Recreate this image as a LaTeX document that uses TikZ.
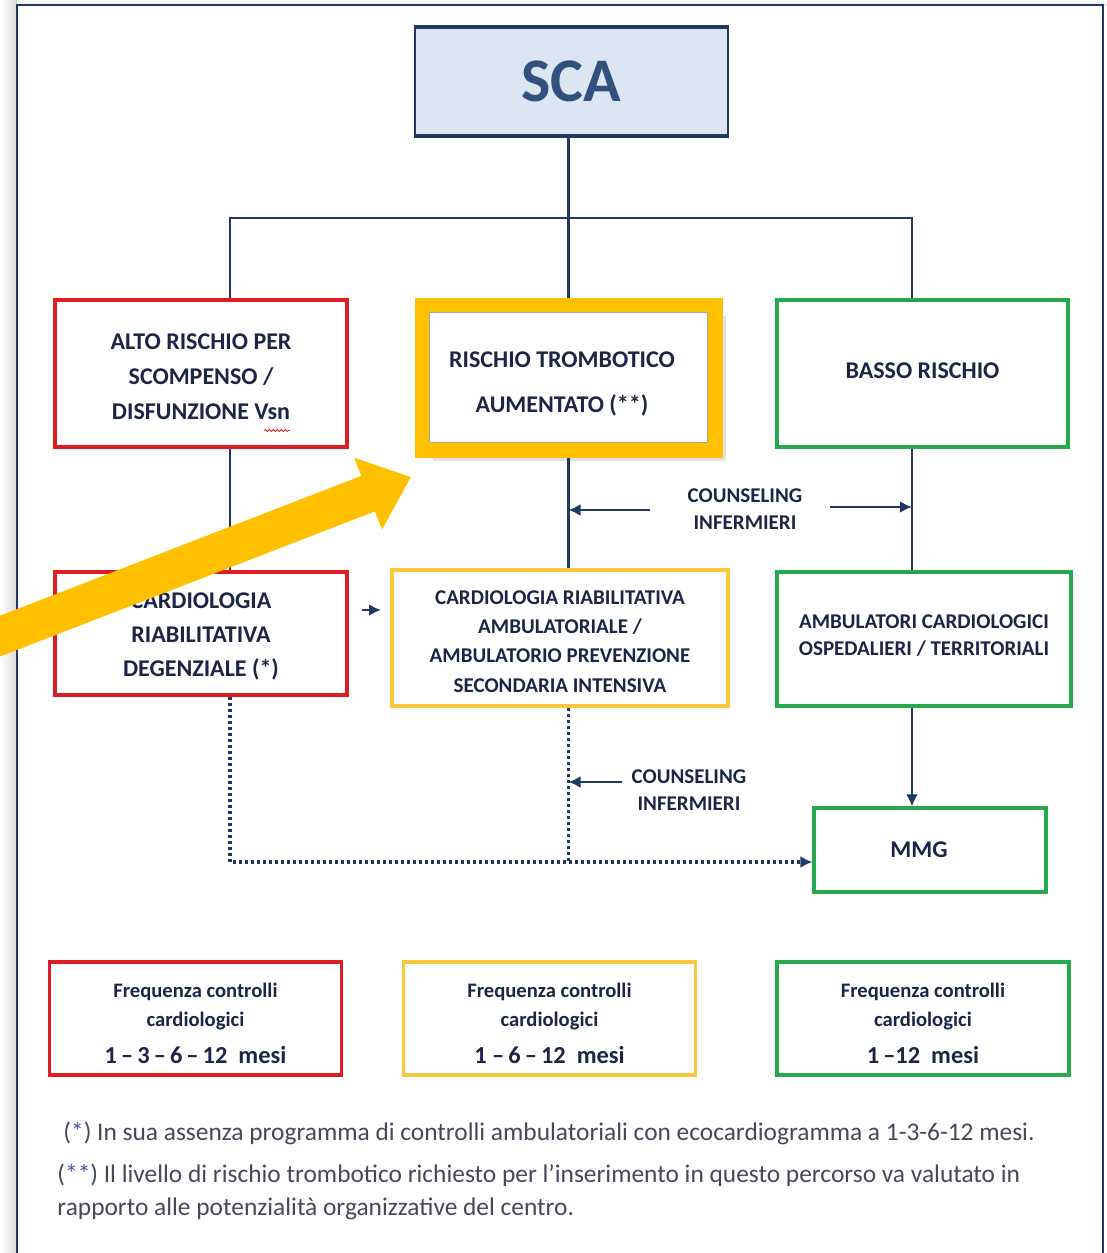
\documentclass[tikz,border=0pt]{standalone}
\usepackage{fontspec}
\setmainfont{Carlito}
\usetikzlibrary{arrows.meta,calc,shadows,decorations.pathmorphing}

\definecolor{blu}{RGB}{31,56,100}
\definecolor{testo}{RGB}{27,38,70}
\definecolor{scatesto}{RGB}{50,80,125}
\definecolor{celeste}{RGB}{220,230,242}
\definecolor{rosso}{RGB}{222,28,36}
\definecolor{verde}{RGB}{38,168,78}
\definecolor{giallo}{RGB}{255,192,0}
\definecolor{giallino}{RGB}{247,199,60}
\definecolor{grigionote}{RGB}{70,72,88}
\definecolor{stelle}{RGB}{60,90,155}

\begin{document}
\begin{tikzpicture}[x=0.5pt,y=-0.5pt,>={Latex[length=6pt,width=6pt]},
	blocco/.style={draw,fill=white,inner sep=0pt,align=center,text=testo,
		font=\fontsize{12pt}{17.5pt}\selectfont\bfseries},
	brosso/.style={blocco,draw=rosso,line width=1.6pt},
	bverde/.style={blocco,draw=verde,line width=1.6pt},
	bgiallo/.style={blocco,draw=giallino,line width=1.6pt},
	piccolo/.style={font=\fontsize{10.5pt}{14.7pt}\selectfont\bfseries},
	linea/.style={blu,line width=1.2pt},
	punti/.style={blu,line width=1.6pt,dash pattern=on 1.5pt off 1.5pt},
	nota/.style={text=testo,align=center,inner sep=0pt,
		font=\fontsize{10.5pt}{13.5pt}\selectfont\bfseries},
	piede/.style={text=grigionote,inner sep=0pt,anchor=west,
		font=\fontsize{12.7pt}{14pt}\selectfont}]

\def\abbassa#1{\rule{0pt}{#1}}

\useasboundingbox[fill=white] (0,0) rectangle (1107,1253);

% cornice
\shade[left color=white,right color=black!15] (0,0) rectangle (17,1253);
\shade[top color=white,bottom color=black!10] (17,0) rectangle (1107,5);
\draw[blu,line width=1.2pt] (17,1260)--(17,5)--(1103,5)--(1103,1260);

% blocchi
\node[draw=blu,fill=celeste,line width=1pt,minimum width=156.5pt,minimum height=53.5pt,
	text=scatesto,font=\fontsize{31pt}{31pt}\selectfont\bfseries] (sca) at (571,81.5) {SCA};
\draw[blu,line width=2pt] (sca.north west)--(sca.north east);
\draw[blu,line width=2pt] (sca.south west)--(sca.south east);

\node[brosso,minimum width=146pt,minimum height=73.5pt] (alto) at (201,373.5)
	{\abbassa{11.5pt}ALTO RISCHIO PER\\SCOMPENSO /\\DISFUNZIONE Vsn};
\node[blocco,draw=giallo,line width=7.5pt,minimum width=146.5pt,minimum height=72.5pt,
	font=\fontsize{12pt}{22.5pt}\selectfont\bfseries,
	drop shadow={shadow xshift=5.5pt,shadow yshift=-5.5pt,fill=black!22}] (rischio) at (568.5,377.5)
	{\abbassa{14.7pt}RISCHIO TROMBOTICO\hspace*{6.5pt}\\AUMENTATO (**)\hspace*{6.5pt}};
\draw[black!35,line width=0.6pt] ($(rischio.north west)+(15,15)$) rectangle ($(rischio.south east)+(-15,-15)$);
\node[bverde,minimum width=145.5pt,minimum height=73.5pt] (basso) at (922.5,373.5)
	{BASSO RISCHIO\rule[-3pt]{0pt}{0pt}};

\node[brosso,minimum width=146pt,minimum height=61.5pt,
	font=\fontsize{12pt}{17pt}\selectfont\bfseries] (degenziale) at (201,633.5)
	{\abbassa{10.7pt}CARDIOLOGIA\\RIABILITATIVA\\DEGENZIALE (*)};
\node[bgiallo,piccolo,minimum width=168pt,minimum height=68pt] (ambulatoriale) at (560,638)
	{\abbassa{10.3pt}CARDIOLOGIA RIABILITATIVA\\AMBULATORIALE /\\AMBULATORIO PREVENZIONE\\SECONDARIA INTENSIVA};
\node[bverde,minimum width=147pt,minimum height=67pt,
	font=\fontsize{10.5pt}{13.5pt}\selectfont\bfseries] (ambosp) at (924,639)
	{AMBULATORI CARDIOLOGICI\\OSPEDALIERI / TERRITORIALI\rule[-4pt]{0pt}{0pt}};
\node[bverde,minimum width=116pt,minimum height=42pt] (mmg) at (930,850) {MMG\hspace*{11pt}};

\node[nota] (couns1) at (745,509.5) {COUNSELING\\INFERMIERI};
\node[nota] (couns2) at (689,790) {COUNSELING\\INFERMIERI};

% collegamenti
\coordinate (bus) at (568,218);
\coordinate (sx) at (230,0);
\coordinate (dx) at (912,0);
\coordinate (dy) at (0,862);

\draw[linea] (sca.south -| rischio.north)--(rischio.north);
\draw[linea] (alto.north -| sx) |- (bus) -| (basso.north -| dx);
\draw[linea] (alto.south -| sx)--(degenziale.north -| sx);
\draw[linea] (rischio.south)--(ambulatoriale.north -| rischio.south);
\draw[linea] (basso.south -| dx)--(ambosp.north -| dx);
\draw[linea,->] (ambosp.south -| dx)--(mmg.north -| dx);

\coordinate (c1) at (650,510);
\coordinate (c2) at (830,507);
\coordinate (c3) at (622,782);
\coordinate (c4) at (362,610);
\coordinate (c5) at (381,610);
\draw[linea,->] (c1)--(c1 -| rischio.south);
\draw[linea,->] (c2)--(c2 -| dx);
\draw[linea,->] (c3)--(c3 -| rischio.south);
\draw[linea,->] (c4)--(c5);

\draw[punti,->] (degenziale.south -| sx) |- (mmg.west |- dy);
\draw[punti] (ambulatoriale.south -| rischio.south)--(dy -| rischio.south);

% sottolineatura
\draw[color=rosso,line width=0.4pt,decorate,decoration={snake,amplitude=0.5pt,segment length=2pt}]
	($(alto)+(63,57)$)--($(alto)+(89,57)$);

% frequenze
\def\frequenza#1#2#3#4{
	\node[#2,line width=1.8pt,minimum width=146pt,minimum height=56.5pt,
		font=\fontsize{10.3pt}{14.5pt}\selectfont\bfseries] (#1) at (#3,1018.5)
		{\abbassa{12pt}Frequenza controlli\\cardiologici\\[4pt]{\fontsize{12.2pt}{14.5pt}\selectfont #4}};
}
\frequenza{freqrosso}{brosso}{195.5}{1\,--\,3\,--\,6\,--\,12~~mesi}
\frequenza{freqgiallo}{bgiallo}{549.5}{1~--\,6\,--\,12~~mesi}
\frequenza{freqverde}{bverde}{923}{1\,--12~~mesi}

% note
\node[piede] (nota1) at (63,1133) {({\color{stelle}*}) In sua assenza programma di controlli ambulatoriali con ecocardiogramma a 1-3-6-12 mesi.};
\node[piede] (nota2) at (57,1175) {({\color{stelle}**}) Il livello di rischio trombotico richiesto per l’inserimento in questo percorso va valutato in};
\node[piede] (nota3) at (57,1209) {rapporto alle potenzialità organizzative del centro.};

% freccia
\coordinate (coda) at (-10,640);
\coordinate (punta) at (411,477);
\draw[color=giallo,line width=19pt,-{Triangle[length=23pt,width=37pt]}] (coda)--(punta);

\end{tikzpicture}
\end{document}
